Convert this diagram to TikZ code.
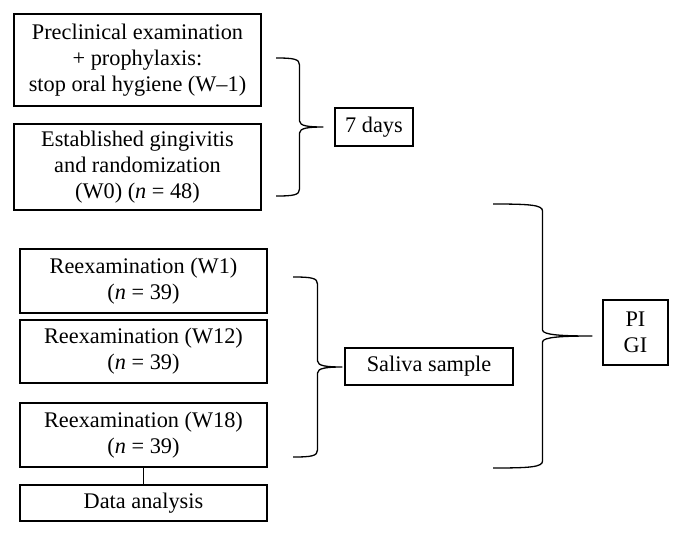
\documentclass[tikz,border=0pt]{standalone}
\usepackage{fontspec}
\setmainfont{Liberation Serif}
\usepackage{tikz}

\tikzset{
    stepbox/.style={draw, line width=1.4pt, align=center, inner sep=2pt,
        font=\fontsize{22.3}{26}\selectfont},
    bracestyle/.style={line width=1.3pt, line join=round}
}

% right-hand curly brace: tip coordinate, depth, half height
\newcommand{\curlyb}[3]{%
    \begin{scope}[shift={(#1)}]
        \draw[bracestyle]
            (-#2, -#3) .. controls (-0.62*#2, -#3) and (-0.5*#2, -#3+1) .. (-0.5*#2, -#3+7)
            -- (-0.5*#2, -6) .. controls (-0.5*#2, -1) and (-0.3*#2, 0) .. (0, 0)
            .. controls (-0.3*#2, 0) and (-0.5*#2, 1) .. (-0.5*#2, 6)
            -- (-0.5*#2, #3-7) .. controls (-0.5*#2, #3-1) and (-0.62*#2, #3) .. (-#2, #3);
    \end{scope}}

\begin{document}
\begin{tikzpicture}[x=1pt, y=-1pt]
    \useasboundingbox (0, 0) rectangle (682, 536);

    % first phase
    \node[stepbox, minimum width=247, minimum height=92] (pre) at (137.5, 60)
        {Preclinical examination\\+ prophylaxis:\\stop oral hygiene (W--1)};
    \node[stepbox, minimum width=247, minimum height=86] (base) at (137.5, 167)
        {Established gingivitis\\and randomization\\(W0) (\textit{n} = 48)};
    \node[stepbox, minimum width=78, minimum height=38] (days) at (374, 127) {7 days};

    % follow-up
    \node[stepbox, minimum width=247, minimum height=64] (w1) at (143.5, 281)
        {Reexamination (W1)\\(\textit{n} = 39)};
    \node[stepbox, minimum width=247, minimum height=63] (w12) at (143.5, 351.5)
        {Reexamination (W12)\\(\textit{n} = 39)};
    \node[stepbox, minimum width=247, minimum height=64] (w18) at (143.5, 435)
        {Reexamination (W18)\\(\textit{n} = 39)};
    \node[stepbox, minimum width=247, minimum height=36] (data) at (143.5, 503) {Data analysis};
    \node[stepbox, minimum width=168, minimum height=37] (saliva) at (429, 366.5) {Saliva sample};
    \node[stepbox, minimum width=65, minimum height=65] (idx) at (635.5, 332.5) {PI\\GI};

    \draw[line width=1.4pt] (w18) -- (data);

    % braces
    \coordinate (tip1) at (323, 127);
    \coordinate (tip2) at (342, 367);
    \coordinate (tip3) at (592, 336);
    \curlyb{tip1}{47}{69}
    \curlyb{tip2}{49}{90}
    \curlyb{tip3}{99}{132}
\end{tikzpicture}
\end{document}
